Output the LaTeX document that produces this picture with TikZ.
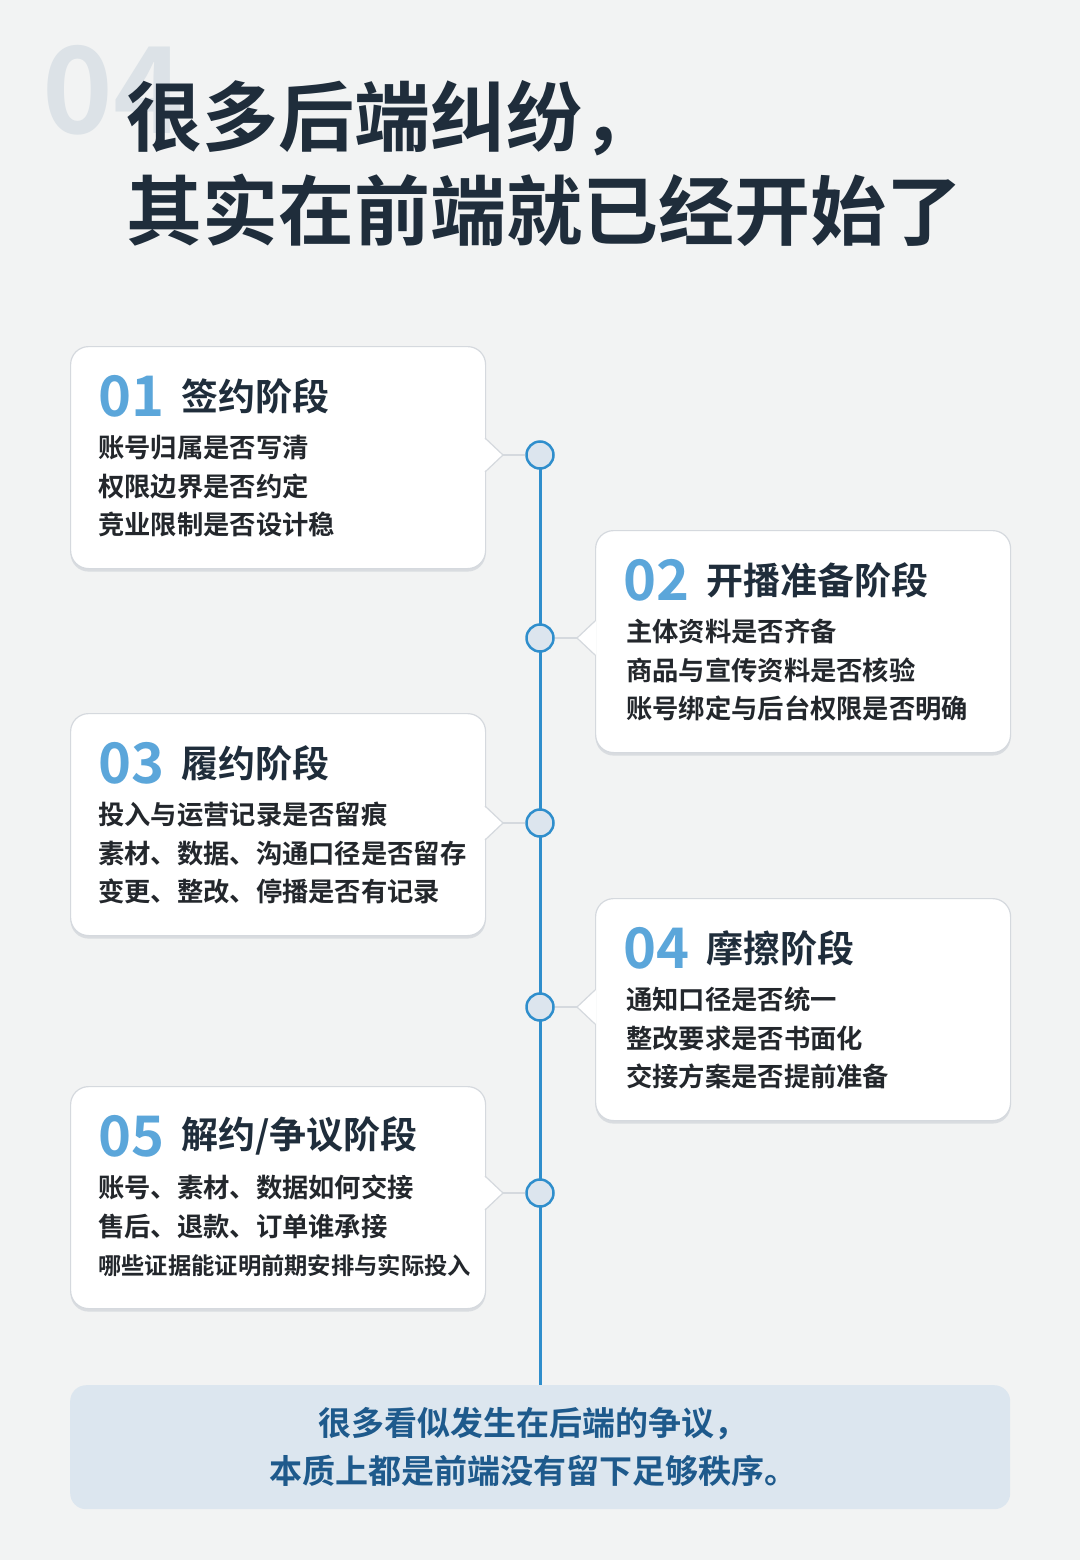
\documentclass[tikz,border=0pt]{standalone}
\usepackage{fontspec}
\setmainfont{Noto Sans CJK SC}[BoldFont={Noto Sans CJK SC Bold}]
\usetikzlibrary{shadows}
\definecolor{bg}{HTML}{F2F3F3}
\definecolor{navy}{HTML}{1F2D3B}
\definecolor{blu}{HTML}{2F8ECC}
\definecolor{numc}{HTML}{5BA6DA}
\definecolor{ghost}{HTML}{DCE2E7}
\definecolor{dotf}{HTML}{DCE5EE}
\definecolor{cardb}{HTML}{D5D9DE}
\definecolor{botf}{HTML}{DCE6EF}
\definecolor{bott}{HTML}{1E5A8C}
\definecolor{bodyc}{HTML}{23272C}
\definecolor{shad}{HTML}{C9CED4}
\tikzset{
 cardbox/.style={draw=cardb,line width=1.2pt,fill=white,rounded corners=18pt,general shadow={fill=shad,shadow xshift=0pt,shadow yshift=-3pt,opacity=0.6},minimum width=415pt,minimum height=222pt,inner sep=0pt},
 dot/.style={circle,draw=blu,line width=2.5pt,fill=dotf,minimum size=27pt,inner sep=0pt},
 num/.style={anchor=west,text=numc,font=\bfseries\fontsize{56}{56}\selectfont,inner sep=0pt},
 ctitle/.style={anchor=west,text=navy,font=\bfseries\fontsize{37}{37}\selectfont,inner sep=0pt},
 body/.style={anchor=north west,text=bodyc,font=\bfseries\fontsize{26.3}{38.5}\selectfont,align=left,inner sep=0pt},
 link/.style={draw=cardb,line width=1.3pt}
}
\begin{document}
\begin{tikzpicture}[x=1pt,y=-1pt]
\fill[bg] (0,0) rectangle (1080,1560);
\useasboundingbox (0,0) rectangle (1080,1560);
\node[anchor=west,text=ghost,font=\bfseries\fontsize{120}{120}\selectfont,inner sep=0pt] (ghost) at (42,90) {04};
\node[anchor=west,text=navy,font=\bfseries\fontsize{76}{76}\selectfont,inner sep=0pt] (t1) at (126,118) {很多后端纠纷，};
\node[anchor=west,text=navy,font=\bfseries\fontsize{76}{76}\selectfont,inner sep=0pt] (t2) at (126,210) {其实在前端就已经开始了};
% timeline
\coordinate (ltop) at (540,455);
\coordinate (lbot) at (540,1386);
\draw[blu,line width=3pt] (ltop) -- (lbot);
% cards
\newcommand{\leftcard}[7]{%
 \node[cardbox,anchor=north west] (#1) at (70,#2) {};
 \fill[white] (484,#3-17) -- (503,#3) -- (484,#3+17) -- cycle;
 \draw[cardb,line width=1.2pt] (485,#3-17) -- (503,#3) -- (485,#3+17);
 \coordinate (#1p) at (503,#3);
 \node[num] (#1n) at (98,#2+50) {#4};
 \node[ctitle] (#1t) at (181,#2+50) {#5};
 \node[body] (#1b) at (98,#2+89) {#6};
}
\newcommand{\rightcard}[7]{%
 \node[cardbox,anchor=north west] (#1) at (595,#2) {};
 \fill[white] (596,#3-17) -- (577,#3) -- (596,#3+17) -- cycle;
 \draw[cardb,line width=1.2pt] (595,#3-17) -- (577,#3) -- (595,#3+17);
 \coordinate (#1p) at (577,#3);
 \node[num] (#1n) at (623,#2+50) {#4};
 \node[ctitle] (#1t) at (706,#2+50) {#5};
 \node[body] (#1b) at (626,#2+89) {#6};
}
\leftcard{c1}{346}{455}{01}{签约阶段}{账号归属是否写清\\权限边界是否约定\\竞业限制是否设计稳}{}
\rightcard{c2}{530}{638}{02}{开播准备阶段}{主体资料是否齐备\\商品与宣传资料是否核验\\账号绑定与后台权限是否明确}{}
\leftcard{c3}{713}{823}{03}{履约阶段}{投入与运营记录是否留痕\\素材、数据、沟通口径是否留存\\变更、整改、停播是否有记录}{}
\rightcard{c4}{898}{1007}{04}{摩擦阶段}{通知口径是否统一\\整改要求是否书面化\\交接方案是否提前准备}{}
\leftcard{c5}{1086}{1193}{05}{解约/争议阶段}{账号、素材、数据如何交接\\售后、退款、订单谁承接\\{\fontsize{23.3}{38.5}\selectfont 哪些证据能证明前期安排与实际投入}}{}
% dots
\node[dot] (d1) at (540,455) {};
\node[dot] (d2) at (540,638) {};
\node[dot] (d3) at (540,823) {};
\node[dot] (d4) at (540,1007) {};
\node[dot] (d5) at (540,1193) {};
\draw[link] (c1p) -- (d1.west);
\draw[link] (c2p) -- (d2.east);
\draw[link] (c3p) -- (d3.west);
\draw[link] (c4p) -- (d4.east);
\draw[link] (c5p) -- (d5.west);
% bottom
\node[fill=botf,rounded corners=16pt,minimum width=940pt,minimum height=124pt,anchor=north west,inner sep=0pt] (bot) at (70,1385) {};
\node[text=bott,font=\bfseries\fontsize{33}{48}\selectfont,align=center,inner sep=0pt] (bt) at (533,1447) {很多看似发生在后端的争议，\\本质上都是前端没有留下足够秩序。};
\end{tikzpicture}
\end{document}
